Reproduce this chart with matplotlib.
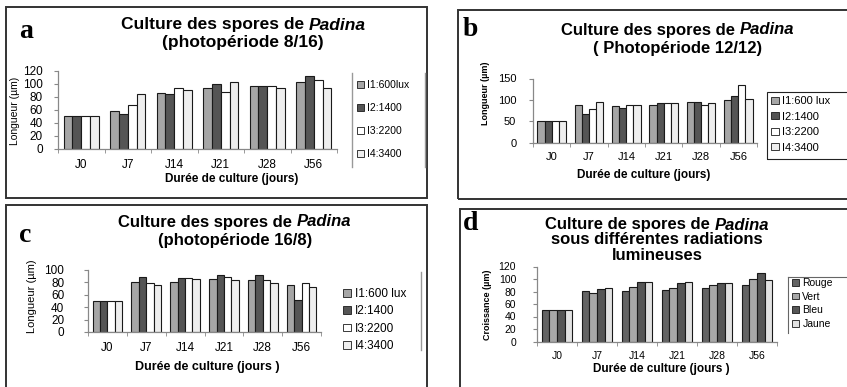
import numpy as np
import matplotlib
matplotlib.use('Agg')
import matplotlib.pyplot as plt
from matplotlib.patches import Rectangle
from matplotlib.lines import Line2D

plt.rcParams['font.family'] = ['Liberation Sans', 'DejaVu Sans']

# Données
jours = ['J0', 'J7', 'J14', 'J21', 'J28', 'J56']
noms_i = ['I1:600lux', 'I2:1400', 'I3:2200', 'I4:3400']
noms_i_b = ['I1:600 lux', 'I2:1400', 'I3:2200', 'I4:3400']
noms_d = ['Rouge', 'Vert', 'Bleu', 'Jaune']

# a : photopériode 8/16
a_i1 = [50, 59, 86, 94, 97, 102]
a_i2 = [50, 53, 85, 100, 96, 112]
a_i3 = [50, 67, 94, 88, 97, 105]
a_i4 = [50, 85, 90, 102, 94, 93]

# b : photopériode 12/12
b_i1 = [50, 87, 85, 87, 94, 99]
b_i2 = [50, 66, 80, 92, 94, 109]
b_i3 = [50, 78, 87, 92, 88, 134]
b_i4 = [50, 94, 89, 92, 92, 102]

# c : photopériode 16/8
c_i1 = [50, 80, 80, 85, 83, 75]
c_i2 = [50, 89, 87, 92, 91, 51]
c_i3 = [50, 78, 87, 88, 83, 78]
c_i4 = [50, 75, 85, 83, 78, 73]

# d : radiations lumineuses
d_rouge = [50, 81, 81, 83, 85, 91]
d_vert = [50, 78, 88, 85, 90, 100]
d_bleu = [50, 84, 96, 93, 94, 110]
d_jaune = [50, 86, 96, 96, 93, 99]

couleurs_i = ['#a6a6a6', '#555555', '#ffffff', '#eeeeee']
couleurs_d = ['#646464', '#a8a8a8', '#565656', '#e2e2e2']

W, H = 847, 387
fig = plt.figure(figsize=(W / 100, H / 100), dpi=100)


def fx(x):
    return x / W


def fy(y):
    return 1 - y / H


def axes_px(x0, x1, ytop, ybot):
    return fig.add_axes([fx(x0), fy(ybot), (x1 - x0) / W, (ybot - ytop) / H])


def cadre(x0, y0, x1, y1):
    fig.add_artist(Rectangle((fx(x0), fy(y1)), (x1 - x0) / W, (y1 - y0) / H,
                             transform=fig.transFigure, fill=False,
                             ec='#333333', lw=1.4))


def trait(x0, y0, x1, y1, couleur='#999999', lw=1.0):
    fig.add_artist(Line2D([fx(x0), fx(x1)], [fy(y0), fy(y1)],
                          transform=fig.transFigure, color=couleur, lw=lw))


def ligne_titre(xc, y, morceaux, taille):
    # morceaux : liste de (texte, style), centrés ensemble sur xc
    r = fig.canvas.get_renderer()
    objs = []
    for txt, st in morceaux:
        t = fig.text(0, fy(y), txt, fontsize=taille, fontweight='bold',
                     fontstyle=st, va='center', ha='left')
        objs.append(t)
    largeurs = [t.get_window_extent(r).width for t in objs]
    gap = 0.28 * taille * 100 / 72
    total = sum(largeurs) + gap * (len(objs) - 1)
    x = xc - total / 2
    for t, w in zip(objs, largeurs):
        t.set_x(x / W)
        x += w + gap


def tracer(ax, series, couleurs, ymax, pas, taille, pad_x, pad_y):
    x = np.arange(len(jours))
    largeur = 0.19
    barres = []
    for k, (vals, c) in enumerate(zip(series, couleurs)):
        b = ax.bar(x + (k - 1.5) * largeur, vals, largeur, color=c,
                   edgecolor='#1a1a1a', linewidth=0.8)
        barres.append(b)
    ax.set_xlim(-0.5, 5.5)
    ax.set_ylim(0, ymax)
    ax.set_yticks(np.arange(0, ymax + 1, pas))
    ax.set_xticks(x)
    ax.set_xticklabels(jours)
    ax.set_xticks(np.arange(-0.5, 6, 1), minor=True)
    ax.tick_params(axis='x', which='major', length=0, pad=pad_x, labelsize=taille)
    ax.tick_params(axis='x', which='minor', length=3, color='#888888')
    ax.tick_params(axis='y', length=3, color='#888888', pad=pad_y, labelsize=taille)
    for s in ['top', 'right']:
        ax.spines[s].set_visible(False)
    for s in ['left', 'bottom']:
        ax.spines[s].set_color('#888888')
        ax.spines[s].set_linewidth(0.9)
    ax.patch.set_alpha(0)
    return barres


def legende(ax, barres, noms, x, y, taille, espace):
    leg = ax.legend(barres, noms, loc='upper left', bbox_to_anchor=(fx(x), fy(y)),
                    bbox_transform=fig.transFigure, frameon=False, fontsize=taille,
                    handlelength=0.7, handleheight=0.6, handletextpad=0.3,
                    labelspacing=espace, borderpad=0, borderaxespad=0)
    for h in leg.legend_handles:
        h.set_linewidth(0.6)
    return leg


# cadres des quatre panneaux
cadre(6, 7, 427, 198)
cadre(458, 10, 851, 199)
cadre(6, 205, 427, 391)
cadre(460, 209, 851, 391)

# ---- a ----
ax_a = axes_px(58, 337, 70.7, 149)
barres = tracer(ax_a, [a_i1, a_i2, a_i3, a_i4], couleurs_i, 120, 20, 8.5, 7, 8)
fig.text(fx(26), fy(32), 'a', fontsize=20, fontweight='bold', family='Liberation Serif',
         va='center', ha='center')
ligne_titre(243, 25, [('Culture des spores de', 'normal'), ('Padina', 'italic')], 12.5)
ligne_titre(243, 42, [('(photopériode 8/16)', 'normal')], 12.5)
fig.text(fx(15), fy(111), 'Longueur (µm)', rotation=90, fontsize=7.5,
         va='center', ha='center')
fig.text(fx(232), fy(179), 'Durée de culture (jours)', fontsize=8.5, fontweight='bold',
         va='center', ha='center')
legende(ax_a, barres, noms_i, 357, 80, 7.5, 1.25)
trait(352, 73, 352, 167)
trait(425, 73, 425, 167)

# ---- b ----
ax_b = axes_px(533, 757, 78.5, 142.7)
barres = tracer(ax_b, [b_i1, b_i2, b_i3, b_i4], couleurs_i, 150, 50, 8, 7, 9)
fig.text(fx(470), fy(29), 'b', fontsize=20, fontweight='bold', family='Liberation Serif',
         va='center', ha='center')
ligne_titre(678, 30, [('Culture des spores de', 'normal'), ('Padina', 'italic')], 12)
ligne_titre(678, 48, [('( Photopériode 12/12)', 'normal')], 12)
fig.text(fx(485), fy(93), 'Longueur (µm)', rotation=90, fontsize=6.5, fontweight='bold',
         va='center', ha='center')
fig.text(fx(644), fy(175), 'Durée de culture (jours)', fontsize=8.5, fontweight='bold',
         va='center', ha='center')
fig.add_artist(Rectangle((fx(767), fy(159)), 90 / W, 67 / H, transform=fig.transFigure,
                         fill=False, ec='#222222', lw=0.8))
legende(ax_b, barres, noms_i_b, 771, 96, 8, 0.5)

# ---- c ----
ax_c = axes_px(88, 321, 269.7, 332)
barres = tracer(ax_c, [c_i1, c_i2, c_i3, c_i4], couleurs_i, 100, 20, 8.5, 7, 14)
fig.text(fx(25), fy(235), 'c', fontsize=20, fontweight='bold', family='Liberation Serif',
         va='center', ha='center')
ligne_titre(235, 222, [('Culture des spores de', 'normal'), ('Padina', 'italic')], 12)
ligne_titre(235, 240, [('(photopériode 16/8)', 'normal')], 12)
fig.text(fx(32), fy(296), 'Longueur (µm)', rotation=90, fontsize=8,
         va='center', ha='center')
fig.text(fx(207), fy(367), 'Durée de culture (jours )', fontsize=9, fontweight='bold',
         va='center', ha='center')
legende(ax_c, barres, noms_i_b, 343, 288, 8.5, 0.45)
trait(421, 272, 421, 350)

# ---- d ----
ax_d = axes_px(537, 777, 266.5, 341.5)
barres = tracer(ax_d, [d_rouge, d_vert, d_bleu, d_jaune], couleurs_d, 120, 20, 7.5, 7, 12)
fig.text(fx(471), fy(224), 'd', fontsize=20, fontweight='bold', family='Liberation Serif',
         va='center', ha='center')
ligne_titre(657, 225, [('Culture de spores de', 'normal'), ('Padina', 'italic')], 12)
ligne_titre(657, 240, [('sous différentes radiations', 'normal')], 12)
ligne_titre(657, 255, [('lumineuses', 'normal')], 12)
fig.text(fx(487), fy(305), 'Croissance (µm)', rotation=90, fontsize=6.5, fontweight='bold',
         va='center', ha='center')
fig.text(fx(661), fy(369), 'Durée de culture (jours )', fontsize=8.5, fontweight='bold',
         va='center', ha='center')
trait(788, 277, 851, 277, '#666666', 0.8)
trait(788, 277, 788, 333, '#666666', 0.8)
legende(ax_d, barres, noms_d, 792, 278, 7.5, 0.35)

fig.savefig('out.png', dpi=100)
